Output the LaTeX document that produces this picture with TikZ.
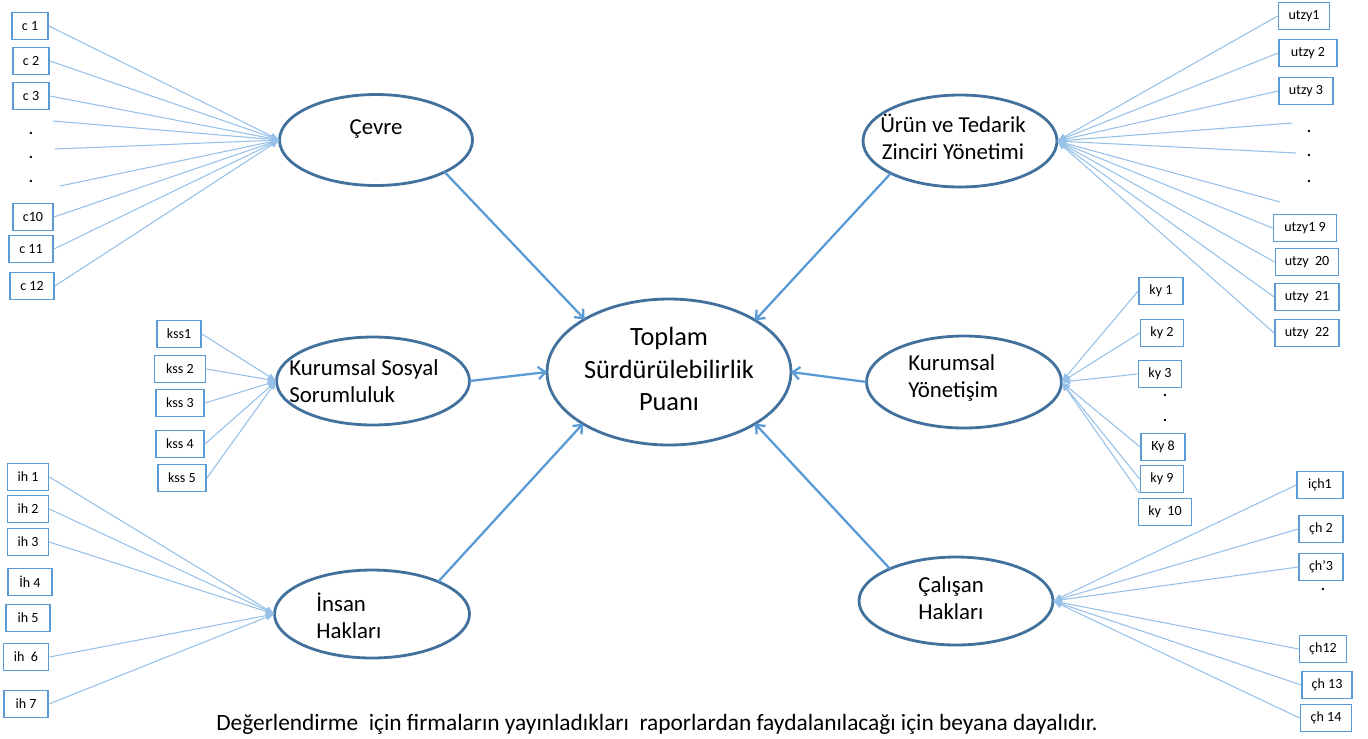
\documentclass[tikz,border=0pt]{standalone}
\usepackage{fontspec}
\setmainfont{Carlito}
\usetikzlibrary{arrows.meta,shapes.geometric}

\definecolor{ringblue}{RGB}{65,113,156}
\definecolor{pathblue}{RGB}{91,155,213}
\definecolor{itemblue}{RGB}{150,192,232}

\tikzset{
    latent/.style={ellipse, draw=ringblue, line width=1.6pt, inner sep=0pt, outer sep=0pt},
    ltext/.style={font=\fontsize{13}{15.6}\selectfont, align=left, inner sep=0pt},
    ind/.style={draw=pathblue, line width=1pt, minimum height=0.54cm, minimum width=#1, inner sep=1pt, font=\fontsize{8}{9.6}\selectfont},
    ind/.default=0.88cm,
    idot/.style={inner sep=0pt, font=\fontsize{11}{12}\selectfont},
    effect/.style={draw=pathblue, line width=1.3pt, -{Straight Barb[length=4pt, width=7pt]}},
    loading/.style={draw=itemblue, line width=0.6pt, -{Latex[length=5pt, width=4pt]}}
}

\begin{document}
\begin{tikzpicture}[x=0.02cm, y=-0.02cm]
    \useasboundingbox (0, 0) rectangle (1368, 738);
    \node[latent, minimum width=3.86cm, minimum height=1.82cm] (cevre) at (376, 140){};
    \node[latent, minimum width=3.86cm, minimum height=1.76cm] (kss) at (373, 381){};
    \node[latent, minimum width=4.88cm, minimum height=2.92cm] (toplam) at (669, 372){};
    \node[latent, minimum width=3.9cm, minimum height=1.76cm] (insan) at (372, 614){};
    \node[latent, minimum width=3.88cm, minimum height=1.84cm] (urun) at (960, 141){};
    \node[latent, minimum width=3.9cm, minimum height=1.84cm] (kyon) at (964, 382){};
    \node[latent, minimum width=3.88cm, minimum height=1.76cm] (calisan) at (956, 601){};
    \node[ltext] (cevre-t) at (376, 129){Çevre};
    \node[ltext, anchor=west] (kss-t) at (289, 381){Kurumsal Sosyal\\Sorumluluk};
    \node[ltext, align=center, font=\fontsize{15}{18.7}\selectfont] (toplam-t) at (669, 369){Toplam\\Sürdürülebilirlik\\Puanı};
    \node[ltext, anchor=west] (insan-t) at (316, 616){İnsan\\Hakları};
    \node[ltext, align=center] (urun-t) at (953, 137){Ürün ve Tedarik\\Zinciri Yönetimi};
    \node[ltext, anchor=west] (kyon-t) at (908, 378){Kurumsal\\Yönetişim};
    \node[ltext, anchor=west] (calisan-t) at (918, 598){Çalışan\\Hakları};
    \node[font=\fontsize{13.3}{16}\selectfont] (note) at (657, 724){Değerlendirme~ için firmaların yayınladıkları~ raporlardan faydalanılacağı için beyana dayalıdır.};
    \node[ind=0.72cm] (c1) at (30, 26){c 1};
    \node[ind=0.72cm] (c2) at (31, 61){c 2};
    \node[ind=0.72cm] (c3) at (31, 96){c 3};
    \node[idot] (cd1) at (31, 133){.};
    \node[idot] (cd2) at (31, 157){.};
    \node[idot] (cd3) at (31, 181){.};
    \node[ind=0.8cm] (c10) at (33, 217){c10};
    \node[ind] (c11) at (31, 249){c 11};
    \node[ind] (c12) at (32, 286){c 12};
    \coordinate (ca) at (53, 121);
    \coordinate (cb) at (55, 149);
    \coordinate (cc) at (60, 186);
    \node[ind] (kss1) at (179, 334){kss1};
    \node[ind=1.02cm] (kss2) at (180, 369){kss 2};
    \node[ind=0.96cm] (kss3) at (180, 403){kss 3};
    \node[ind=0.96cm] (kss4) at (180, 444){kss 4};
    \node[ind=0.96cm] (kss5) at (182, 478){kss 5};
    \node[ind=0.82cm] (ih1) at (28, 477){ih 1};
    \node[ind=0.82cm] (ih2) at (28, 509){ih 2};
    \node[ind=0.82cm] (ih3) at (28, 542){ih 3};
    \node[ind] (ih4) at (30, 582){İh 4};
    \node[ind] (ih5) at (28, 618){ih 5};
    \node[ind=0.9cm] (ih6) at (26, 657){ih~~6};
    \node[ind] (ih7) at (26, 704){ih 7};
    \node[ind=1.02cm] (u1) at (1304, 16){utzy1};
    \node[ind=1.16cm] (u2) at (1308, 53){utzy 2};
    \node[ind=1.08cm] (u3) at (1306, 91){utzy 3};
    \node[idot] (ud1) at (1309, 131){.};
    \node[idot] (ud2) at (1309, 155){.};
    \node[idot] (ud3) at (1309, 181){.};
    \coordinate (ua) at (1292, 123);
    \coordinate (ub) at (1296, 153);
    \coordinate (uc) at (1280, 202);
    \node[ind=1.26cm] (u19) at (1305, 228){utzy1 9};
    \node[ind=1.26cm] (u20) at (1307, 262){utzy~~20};
    \node[ind=1.28cm] (u21) at (1307, 297){utzy~~21};
    \node[ind=1.28cm] (u22) at (1307, 333){utzy~~22};
    \node[ind] (ky1) at (1161, 291){ky 1};
    \node[ind=0.86cm] (ky2) at (1162, 333){ky 2};
    \node[ind=0.86cm] (ky3) at (1160, 374){ky 3};
    \node[idot] (kyd1) at (1165, 395){.};
    \node[idot] (kyd2) at (1165, 420){.};
    \node[ind] (ky8) at (1163, 447){Ky 8};
    \node[ind=0.86cm] (ky9) at (1162, 479){ky 9};
    \node[ind=1.06cm] (ky10) at (1165, 512){ky~~10};
    \node[ind=0.92cm] (ch1) at (1320, 485){içh1};
    \node[ind] (ch2) at (1321, 529){çh 2};
    \node[ind] (ch3) at (1321, 567){çh’3};
    \node[idot] (chd) at (1323, 589){.};
    \node[ind=0.94cm] (ch12) at (1323, 649){çh12};
    \node[ind=1cm] (ch13) at (1327, 685){çh 13};
    \node[ind=1.02cm] (ch14) at (1326, 718){çh 14};
    \draw[loading] (c1.east)--(cevre.west);
    \draw[loading] (c2.east)--(cevre.west);
    \draw[loading] (c3.east)--(cevre.west);
    \draw[loading] (ca)--(cevre.west);
    \draw[loading] (cb)--(cevre.west);
    \draw[loading] (cc)--(cevre.west);
    \draw[loading] (c10.east)--(cevre.west);
    \draw[loading] (c11.east)--(cevre.west);
    \draw[loading] (c12.east)--(cevre.west);
    \draw[loading] (kss1.east)--(kss.west);
    \draw[loading] (kss2.east)--(kss.west);
    \draw[loading] (kss3.east)--(kss.west);
    \draw[loading] (kss4.east)--(kss.west);
    \draw[loading] (kss5.east)--(kss.west);
    \draw[loading] (ih1.east)--(insan.west);
    \draw[loading] (ih2.east)--(insan.west);
    \draw[loading] (ih3.east)--(insan.west);
    \draw[loading] (ih6.east)--(insan.west);
    \draw[loading] (ih7.east)--(insan.west);
    \draw[loading] (u1.west)--(urun.east);
    \draw[loading] (u2.west)--(urun.east);
    \draw[loading] (u3.west)--(urun.east);
    \draw[loading] (ua)--(urun.east);
    \draw[loading] (ub)--(urun.east);
    \draw[loading] (uc)--(urun.east);
    \draw[loading] (u19.west)--(urun.east);
    \draw[loading] (u20.west)--(urun.east);
    \draw[loading] (u21.west)--(urun.east);
    \draw[loading] (u22.west)--(urun.east);
    \draw[loading] (ky1.west)--(kyon.east);
    \draw[loading] (ky2.west)--(kyon.east);
    \draw[loading] (ky3.west)--(kyon.east);
    \draw[loading] (ky8.west)--(kyon.east);
    \draw[loading] (ky9.west)--(kyon.east);
    \draw[loading] (ky9.south west)--(kyon.east);
    \draw[loading] (ch1.west)--(calisan.east);
    \draw[loading] (ch2.west)--(calisan.east);
    \draw[loading] (ch3.west)--(calisan.east);
    \draw[loading] (ch12.west)--(calisan.east);
    \draw[loading] (ch13.west)--(calisan.east);
    \draw[loading] (ch14.west)--(calisan.east);
    \draw[effect] (cevre.-25)--(toplam.148);
    \draw[effect] (kss.east)--(toplam.west);
    \draw[effect] (insan.26)--(toplam.-149);
    \draw[effect] (urun.205)--(toplam.31);
    \draw[effect] (kyon.west)--(toplam.east);
    \draw[effect] (calisan.154)--(toplam.-31);
\end{tikzpicture}
\end{document}
